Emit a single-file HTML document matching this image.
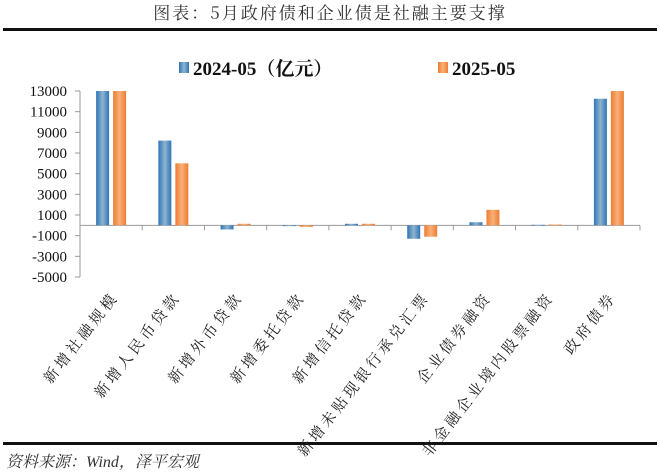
<!DOCTYPE html>
<html><head><meta charset="utf-8">
<style>
body{margin:0;background:#fff;}
svg{display:block;font-family:"Liberation Serif","Noto Serif CJK SC",serif;}
</style></head>
<body>
<svg id="chart" width="660" height="473" viewBox="0 0 660 473" xmlns="http://www.w3.org/2000/svg">
<defs>
<linearGradient id="gb" x1="0" x2="1" y1="0" y2="0"><stop offset="0" stop-color="#2e75b6"/><stop offset="0.5" stop-color="#8fb3cf"/><stop offset="1" stop-color="#2e75b6"/></linearGradient>
<linearGradient id="go" x1="0" x2="1" y1="0" y2="0"><stop offset="0" stop-color="#ed7d31"/><stop offset="0.5" stop-color="#f8b07a"/><stop offset="1" stop-color="#ed7d31"/></linearGradient>
</defs>
<text x="330" y="19" text-anchor="middle" font-size="17" fill="#333" font-family="'Noto Serif CJK SC',serif" letter-spacing="2">图表：5月政府债和企业债是社融主要支撑</text>
<rect x="3" y="28" width="654" height="3" fill="#111"/>
<rect x="3" y="442" width="654" height="3" fill="#111"/>
<text x="6" y="467" font-size="16" font-style="italic" fill="#333" font-family="'Liberation Serif','Noto Serif CJK SC',serif">资料来源：Wind，泽平宏观</text>
<g>
<rect x="179" y="62" width="10" height="11" fill="url(#gb)"/>
<text x="193" y="75" font-size="19" font-weight="bold" fill="#111">2024-05（亿元）</text>
<rect x="438" y="62" width="10" height="11" fill="url(#go)"/>
<text x="452" y="75" font-size="19" font-weight="bold" fill="#111">2025-05</text>
</g>
<g id="axes"></g>
<g id="bars"></g>
<g id="labels"></g>
</svg>
<script>
const categories=["新增社融规模","新增人民币贷款","新增外币贷款","新增委托贷款","新增信托贷款","新增未贴现银行承兑汇票","企业债券融资","非金融企业境内股票融资","政府债券"];
const series2024=[13000,8200,-400,0,150,-1300,300,50,12250];
const series2025=[13000,6000,150,-150,150,-1100,1500,80,13000];
const yTicks=[13000,11000,9000,7000,5000,3000,1000,-1000,-3000,-5000];
const NS="http://www.w3.org/2000/svg";
const left=80,right=640,yTop=91,yBot=277,vMax=13000,vMin=-5000;
function y(v){return yTop+(vMax-v)*(yBot-yTop)/(vMax-vMin);}
const band=(right-left)/categories.length;
function cx(i){return left+band*(i+0.5);}
function mk(tag,attrs,parent){const e=document.createElementNS(NS,tag);for(const k in attrs)e.setAttribute(k,attrs[k]);parent.appendChild(e);return e;}
const axes=document.getElementById('axes'),bars=document.getElementById('bars'),labels=document.getElementById('labels');
let yl=mk('line',{x1:left,x2:left,y1:yTop,y2:yBot,stroke:'#999'},axes);


yTicks.forEach(t=>{
 const tk=mk('line',{x1:left-5,x2:left,y1:y(t),y2:y(t),stroke:'#999'},axes);
 
 
 const tx=mk('text',{x:left-13,y:y(t)+5,'text-anchor':'end','font-size':15,fill:'#111'},axes);
 
 
 tx.textContent=t;
});
const xl=mk('line',{x1:left,x2:right,y1:y(0),y2:y(0),stroke:'#999'},axes);


for(let i=1;i<=categories.length;i++){
 const tk=mk('line',{x1:left+band*i,x2:left+band*i,y1:y(0),y2:y(0)+5,stroke:'#999'},axes);
 
 
}
const bw=13,gap=4;
categories.forEach((c,i)=>{
 [[series2024,'url(#gb)',-bw-gap/2,'bar-2024'],[series2025,'url(#go)',gap/2,'bar-2025']].forEach(([s,f,off,nm])=>{
  const v=s[i];const y0=y(Math.max(v,0)),y1=y(Math.min(v,0));
  const r=mk('rect',{x:cx(i)+off,y:y0,width:bw,height:Math.max(y1-y0,0.8),fill:f},bars);
  
  
 });
 const t=mk('text',{x:0,y:0,'text-anchor':'end','font-size':15,'letter-spacing':3.5,fill:'#222','font-family':"'Noto Serif CJK SC',serif",transform:`translate(${cx(i)+8},${y(-5000)+20}) rotate(-52)`},labels);
 
 
 t.textContent=c;
});
</script>
</body></html>
